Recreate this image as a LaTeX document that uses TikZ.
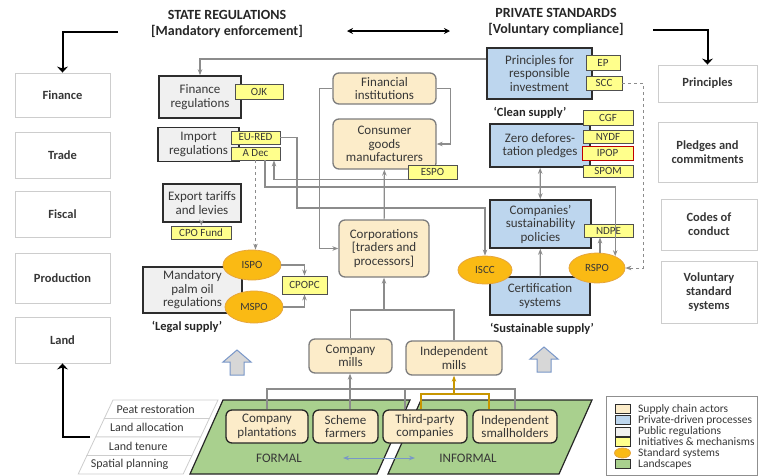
\documentclass[tikz,border=0pt]{standalone}
\usepackage{fontspec}
\setmainfont{Carlito}
\usetikzlibrary{arrows.meta,positioning,shapes.geometric}

\definecolor{textc}{RGB}{55,55,55}
\definecolor{catline}{RGB}{205,205,205}
\definecolor{darkline}{RGB}{45,45,45}
\definecolor{publicfill}{RGB}{240,240,240}
\definecolor{privfill}{RGB}{189,214,238}
\definecolor{actorfill}{RGB}{252,236,201}
\definecolor{actorline}{RGB}{125,125,125}
\definecolor{tagfill}{RGB}{255,255,140}
\definecolor{tagline}{RGB}{80,80,80}
\definecolor{stdfill}{RGB}{250,186,20}
\definecolor{stdline}{RGB}{230,165,60}
\definecolor{greenfill}{RGB}{169,208,142}
\definecolor{connline}{RGB}{140,140,140}
\definecolor{goldline}{RGB}{200,150,0}
\definecolor{blockfill}{RGB}{215,215,215}
\definecolor{blockline}{RGB}{120,150,200}

\tikzset{
  wh/.style 2 args={minimum width=#1, minimum height=#2},
  cat/.style={draw=catline, line width=0.9pt, fill=white, font=\bfseries\fontsize{12.5}{14}\selectfont},
  title/.style={text=black!85, font=\bfseries\fontsize{14}{15}\selectfont},
  public/.style={draw=darkline, line width=1.5pt, fill=publicfill},
  private/.style={draw=darkline, line width=1.5pt, fill=privfill},
  actor/.style={draw=actorline, line width=1.3pt, fill=actorfill, rounded corners=6pt},
  farm/.style={actor, draw=black!85},
  tag/.style={draw=tagline, line width=0.8pt, fill=tagfill, font=\fontsize{11}{12}\selectfont},
  std/.style={ellipse, draw=stdline, fill=stdfill, line width=0.8pt, inner sep=0pt, font=\fontsize{11}{12}\selectfont},
  note/.style={text=black!85, font=\bfseries\fontsize{12.5}{14}\selectfont},
  conn/.style={draw=connline, line width=1.2pt},
  goldc/.style={draw=goldline, line width=1.4pt},
  bigarrow/.style={draw=black, line width=2pt, -{Stealth[length=6pt,width=11pt]}},
  policy/.style={draw=catline, line width=0.8pt, fill=white},
  policytext/.style={font=\fontsize{12}{13}\selectfont},
  landscape/.style={draw=black!85, line width=1.2pt, fill=greenfill},
  blockarrow/.style={draw=blockline, line width=1pt, fill=blockfill},
  swatch/.style={draw=darkline, line width=0.8pt, wh={15}{9}, inner sep=0pt},
  legtext/.style={anchor=west, font=\fontsize{11.5}{12}\selectfont}
}

\begin{document}
\begin{tikzpicture}[x=1pt, y=-1pt, >={Stealth[length=6pt,width=4.5pt]},
  every node/.style={text=textc, align=center, inner sep=1pt, font=\fontsize{13}{13.5}\selectfont}]
  \useasboundingbox (0,0) rectangle (758,475);

  % landscapes and land policies
  \draw[landscape] (223,400) -- (410,400) -- (377,474) -- (190,474) -- cycle;
  \draw[landscape] (421,400) -- (592,400) -- (559,474) -- (388,474) -- cycle;
  \foreach \t [count=\i] in {Peat restoration,Land allocation,Land tenure,Spatial planning}{
    \pgfmathsetmacro{\ya}{400+18.5*(\i-1)}
    \pgfmathsetmacro{\yb}{\ya+18.5}
    \pgfmathsetmacro{\xa}{113-0.47*(\ya-400)}
    \pgfmathsetmacro{\xb}{113-0.47*(\yb-400)}
    \draw[policy] (\xa,\ya) -- (\xa+105,\ya) -- (\xb+105,\yb) -- (\xb,\yb) -- cycle;
    \node[policytext] (lp\i) at ({(\xa+\xb)/2+47},{(\ya+\yb)/2}) {\t};
  }

  % titles
  \node[title] (state) at (227,15) {STATE REGULATIONS};
  \node[title] (mand) at (227,31) {[Mandatory enforcement]};
  \node[title] (priv) at (556,13) {PRIVATE STANDARDS};
  \node[title] (vol) at (556,29) {[Voluntary compliance]};

  % side columns
  \node[cat, wh={95}{44}] (finance) at (62.5,95) {Finance};
  \node[cat, wh={95}{46}] (trade) at (62.5,155) {Trade};
  \node[cat, wh={95}{46}] (fiscal) at (62.5,214) {Fiscal};
  \node[cat, wh={95}{50}] (production) at (62.5,278) {Production};
  \node[cat, wh={95}{46}] (land) at (62.5,340) {Land};
  \node[cat, wh={99}{37}] (principles) at (707.5,83.5) {Principles};
  \node[cat, wh={99}{60}] (pledges) at (707.5,152) {Pledges and\\commitments};
  \node[cat, wh={96}{51}] (codes) at (709,224.5) {Codes of\\conduct};
  \node[cat, wh={96}{62}] (voluntary) at (709,292) {Voluntary\\standard\\systems};

  % public regulations
  \node[public, wh={82}{42}] (finreg) at (200,97) {Finance\\regulations};
  \node[tag, wh={48}{15}] (ojk) at (259,91.5) {OJK};
  \node[public, wh={81}{34}] (impreg) at (198.5,144.5) {Import\\regulations};
  \node[tag, wh={49}{13}] (eured) at (255.5,137.5) {EU-RED};
  \node[tag, wh={49}{13}] (adec) at (255.5,153.5) {A Dec};
  \node[public, wh={78}{38}] (export) at (202,203) {Export tariffs\\and levies};
  \node[tag, wh={60}{13}] (cpofund) at (201,232.5) {CPO Fund};
  \node[public, wh={99}{46}] (mandatory) at (192.5,290) {Mandatory\\palm oil\\regulations};
  \node[std, wh={58}{30}] (ispo) at (252,265) {ISPO};
  \node[std, wh={58}{32}] (mspo) at (254,307) {MSPO};
  \node[tag, wh={45}{18}] (cpopc) at (304.5,285) {CPOPC};
  \node[note] (legal) at (187,327) {‘Legal supply’};

  % supply chain actors
  \node[actor, wh={103}{31}] (fininst) at (384.5,88.5) {Financial\\institutions};
  \node[actor, wh={103}{50}] (consumer) at (384.5,144) {Consumer\\goods\\manufacturers};
  \node[tag, wh={49}{14}] (espo) at (432.5,172) {ESPO};
  \node[actor, wh={90}{57}] (corp) at (384,248.5) {Corporations\\{[traders and}\\processors]};
  \node[actor, wh={83}{34}] (cmills) at (350.5,356) {Company\\mills};
  \node[actor, wh={96}{34}] (imills) at (454,358) {Independent\\mills};
  \node[farm, wh={82}{33}] (cplant) at (267,426.5) {Company\\plantations};
  \node[farm, wh={65}{33}] (scheme) at (345.5,426.5) {Scheme\\farmers};
  \node[farm, wh={84}{33}] (third) at (425,426.5) {Third-party\\companies};
  \node[farm, wh={84}{33}] (indsh) at (515,426.5) {Independent\\smallholders};
  \node (formal) at (279,458) {FORMAL};
  \node (informal) at (468,458) {INFORMAL};

  % private standards
  \node[private, wh={105}{51}] (pri) at (539.5,73.5) {Principles for\\responsible\\investment};
  \node[tag, wh={34}{15}] (ep) at (603,62.5) {EP};
  \node[tag, wh={36}{14}] (scc) at (604,83) {SCC};
  \node[note] (clean) at (530,113) {‘Clean supply’};
  \node[private, wh={100}{43}] (zero) at (540,145.5) {Zero defores-\\tation pledges};
  \node[tag, wh={50}{15}] (cgf) at (608,117.5) {CGF};
  \node[tag, wh={50}{13}] (nydf) at (608,136.5) {NYDF};
  \node[tag, wh={51}{14}, draw=red!75!black] (ipop) at (607.5,153) {IPOP};
  \node[tag, wh={50}{12}] (spom) at (608,171) {SPOM};
  \node[private, wh={101}{48}] (csp) at (540.5,224) {Companies’\\sustainability\\policies};
  \node[tag, wh={49}{13}] (ndpe) at (608.5,230.5) {NDPE};
  \node[private, wh={100}{38}] (cert) at (540,296) {Certification\\systems};
  \node[std, wh={54}{28}] (iscc) at (485,270) {ISCC};
  \node[std, wh={56}{30}] (rspo) at (597,268) {RSPO};
  \node[note] (sustain) at (542,329) {‘Sustainable supply’};

  % block arrows
  \foreach \ax/\ay in {237/350,544/347}
    \draw[blockarrow] (\ax,\ay) -- ++(14,12) -- ++(-7,0) -- ++(0,13) -- ++(-14,0) -- ++(0,-13) -- ++(-7,0) -- cycle;

  % top and side arrows
  \coordinate (tl) at (118,32);
  \coordinate (tr) at (653,30);
  \coordinate (ta) at (347,31);
  \coordinate (tb) at (450,31);
  \coordinate (lt) at (90,437);
  \draw[bigarrow] (tl) -| (finance);
  \draw[bigarrow] (tr) -| (principles);
  \draw[bigarrow] (lt) -| (land);
  \draw[line width=1.3pt, {Stealth[length=6pt,width=6pt]}-{Stealth[length=6pt,width=6pt]}] (ta) -- (tb);

  % connectors
  \coordinate (b1) at (297,208);
  \coordinate (b2) at (615,187);
  \draw[conn,->] ([yshift=14.5pt]pri.west) -| (finreg);
  \draw[conn,->] (fininst.west) -- ++(-13,0) |- (corp.west);
  \draw[conn,->] (fininst.east) -- ++(14,0) |- (consumer.east);
  \draw[conn,->] (corp) -- (consumer);
  \draw[conn,->] (export) -- (cpofund);
  \draw[conn,->] (ispo.east) -| (cpopc.north);
  \draw[conn,->] (mspo.east) -| (cpopc.south);
  \draw[conn,line width=0.8pt,dashed,->] (adec.south) -- (adec.south |- ispo.north);
  \draw[conn,->] (eured.east) -| (b1) -| (iscc);
  \draw[conn,->] ([xshift=9.5pt]adec.south) |- (b2) -| (rspo.33);
  \draw[conn,->] (espo.south west) -| ([xshift=18.5pt]adec.south);
  \draw[conn,->] ([xshift=3pt]rspo.north) -- ([xshift=3pt]rspo.north |- ndpe.south);
  \draw[conn,line width=0.8pt,dashed,->] (scc.east) -- ++(21,0) |- (rspo.east);
  \draw[conn,<->] (zero) -- (csp);
  \draw[conn,->] (cert) -- (csp);

  \coordinate (mj) at (384,310);
  \draw[conn] (cmills) |- (mj) -| (imills);
  \draw[conn,->] (mj) -- (corp);
  \coordinate (pj) at (350,389);
  \draw[conn] (cplant) |- (pj) -| (indsh);
  \draw[conn] (scheme.north -| pj) -- (pj);
  \draw[conn] ([xshift=-20pt]third.north) -- ([xshift=-20pt]third.north |- pj);
  \draw[conn,->] (pj) -- (pj |- cmills.south);
  \coordinate (ij) at (454,394);
  \draw[goldc] ([xshift=-4pt]third.north) |- (ij) -| ([xshift=-26pt]indsh.north);
  \draw[goldc,->] (ij) -- (imills);
  \coordinate (fa) at (343,458);
  \coordinate (fb) at (415,458);
  \draw[draw=blockline, line width=1pt, <->] (fa) -- (fb);

  % legend
  \node[draw=catline!70!black, line width=0.9pt, wh={151}{79}] (legend) at (681.5,435.5) {};
  \foreach \y/\f/\t [count=\i] in {409/actorfill/Supply chain actors,420/privfill/Private-driven processes,431.5/publicfill/Public regulations,442/tagfill/Initiatives \& mechanisms,464/greenfill/Landscapes}{
    \node[swatch, fill=\f] (sw\i) at (622.5,\y) {};
    \node[legtext] (lg\i) at (637,\y) {\t};
  }
  \node[std, wh={16}{10}] (sw6) at (622.5,453) {};
  \node[legtext] (lg6) at (637,453) {Standard systems};
\end{tikzpicture}
\end{document}
